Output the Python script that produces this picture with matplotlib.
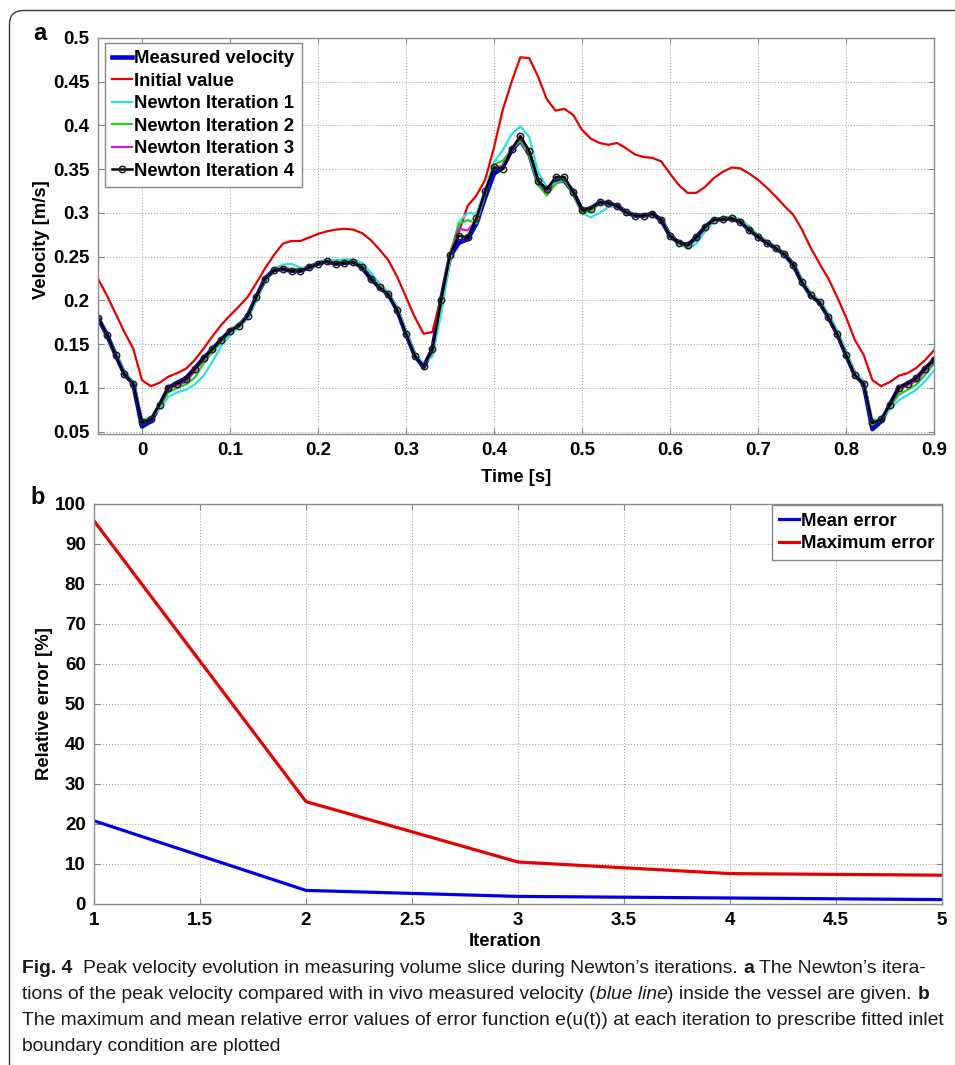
import numpy as np
import matplotlib
matplotlib.use('Agg')
import matplotlib.pyplot as plt
from matplotlib import font_manager
from matplotlib.patches import FancyBboxPatch
from matplotlib.ticker import FuncFormatter

# time samples of the velocity curves [s]
t = np.round(np.arange(-0.05, 0.905, 0.01), 2)

measured = [0.180, 0.161, 0.138, 0.116, 0.105, 0.056, 0.062, 0.080, 0.100, 0.106,
            0.111, 0.122, 0.134, 0.144, 0.155, 0.165, 0.171, 0.182, 0.204, 0.225,
            0.235, 0.236, 0.234, 0.234, 0.238, 0.242, 0.245, 0.242, 0.243, 0.244,
            0.238, 0.225, 0.215, 0.207, 0.189, 0.162, 0.137, 0.124, 0.144, 0.201,
            0.250, 0.266, 0.270, 0.288, 0.318, 0.345, 0.352, 0.372, 0.383, 0.368,
            0.335, 0.326, 0.336, 0.337, 0.324, 0.303, 0.305, 0.312, 0.311, 0.308,
            0.301, 0.297, 0.297, 0.299, 0.292, 0.274, 0.266, 0.263, 0.272, 0.284,
            0.292, 0.293, 0.294, 0.290, 0.281, 0.273, 0.266, 0.260, 0.253, 0.241,
            0.221, 0.206, 0.198, 0.181, 0.162, 0.138, 0.115, 0.105, 0.053, 0.062,
            0.081, 0.100, 0.105, 0.111, 0.122, 0.132]

initial = [0.225, 0.206, 0.185, 0.164, 0.145, 0.109, 0.102, 0.106, 0.113, 0.117,
           0.122, 0.132, 0.145, 0.159, 0.172, 0.183, 0.193, 0.204, 0.220, 0.237,
           0.252, 0.265, 0.268, 0.268, 0.272, 0.276, 0.279, 0.281, 0.282, 0.281,
           0.277, 0.269, 0.258, 0.246, 0.227, 0.204, 0.181, 0.162, 0.164, 0.204,
           0.248, 0.278, 0.308, 0.320, 0.338, 0.375, 0.418, 0.450, 0.478, 0.477,
           0.456, 0.430, 0.417, 0.419, 0.412, 0.395, 0.385, 0.380, 0.378, 0.380,
           0.374, 0.367, 0.364, 0.363, 0.359, 0.345, 0.332, 0.323, 0.323, 0.330,
           0.340, 0.347, 0.352, 0.351, 0.345, 0.338, 0.329, 0.319, 0.308, 0.298,
           0.281, 0.260, 0.242, 0.225, 0.204, 0.181, 0.155, 0.138, 0.109, 0.102,
           0.107, 0.114, 0.117, 0.123, 0.132, 0.143]

newton1 = [0.180, 0.160, 0.140, 0.119, 0.107, 0.064, 0.066, 0.076, 0.090, 0.095,
           0.098, 0.104, 0.114, 0.130, 0.148, 0.160, 0.170, 0.180, 0.200, 0.224,
           0.236, 0.241, 0.242, 0.237, 0.238, 0.243, 0.246, 0.246, 0.247, 0.247,
           0.243, 0.232, 0.219, 0.209, 0.193, 0.166, 0.140, 0.128, 0.136, 0.185,
           0.245, 0.290, 0.300, 0.299, 0.328, 0.358, 0.372, 0.390, 0.399, 0.387,
           0.347, 0.330, 0.334, 0.337, 0.324, 0.300, 0.295, 0.300, 0.307, 0.308,
           0.302, 0.297, 0.297, 0.299, 0.292, 0.276, 0.265, 0.259, 0.265, 0.279,
           0.290, 0.294, 0.296, 0.293, 0.285, 0.275, 0.267, 0.261, 0.254, 0.242,
           0.224, 0.209, 0.200, 0.185, 0.166, 0.142, 0.118, 0.108, 0.064, 0.064,
           0.076, 0.086, 0.092, 0.098, 0.108, 0.120]

newton2 = [0.180, 0.161, 0.138, 0.117, 0.105, 0.062, 0.066, 0.079, 0.095, 0.100,
           0.104, 0.112, 0.128, 0.141, 0.153, 0.165, 0.173, 0.182, 0.204, 0.225,
           0.235, 0.238, 0.236, 0.234, 0.238, 0.242, 0.245, 0.243, 0.244, 0.245,
           0.239, 0.226, 0.216, 0.207, 0.189, 0.162, 0.137, 0.125, 0.142, 0.198,
           0.254, 0.287, 0.292, 0.288, 0.322, 0.355, 0.360, 0.372, 0.383, 0.365,
           0.332, 0.320, 0.333, 0.338, 0.322, 0.300, 0.302, 0.311, 0.311, 0.308,
           0.301, 0.297, 0.297, 0.299, 0.292, 0.274, 0.265, 0.261, 0.271, 0.284,
           0.292, 0.294, 0.295, 0.291, 0.282, 0.274, 0.266, 0.260, 0.253, 0.241,
           0.221, 0.206, 0.198, 0.181, 0.162, 0.138, 0.115, 0.105, 0.058, 0.066,
           0.079, 0.092, 0.098, 0.104, 0.115, 0.128]

newton3 = [0.180, 0.161, 0.138, 0.116, 0.105, 0.061, 0.064, 0.081, 0.099, 0.103,
           0.107, 0.119, 0.133, 0.144, 0.155, 0.165, 0.171, 0.182, 0.204, 0.225,
           0.235, 0.237, 0.235, 0.234, 0.238, 0.242, 0.245, 0.242, 0.243, 0.244,
           0.238, 0.225, 0.215, 0.207, 0.189, 0.162, 0.137, 0.125, 0.144, 0.201,
           0.252, 0.282, 0.280, 0.292, 0.325, 0.352, 0.354, 0.372, 0.386, 0.370,
           0.336, 0.325, 0.340, 0.341, 0.324, 0.303, 0.305, 0.312, 0.311, 0.308,
           0.301, 0.297, 0.297, 0.299, 0.292, 0.274, 0.266, 0.262, 0.272, 0.284,
           0.292, 0.293, 0.294, 0.290, 0.281, 0.273, 0.266, 0.260, 0.253, 0.241,
           0.221, 0.206, 0.198, 0.181, 0.162, 0.138, 0.115, 0.105, 0.060, 0.064,
           0.080, 0.098, 0.103, 0.108, 0.120, 0.130]

newton4 = [0.180, 0.161, 0.138, 0.116, 0.105, 0.061, 0.064, 0.081, 0.100, 0.105,
           0.110, 0.122, 0.134, 0.144, 0.155, 0.165, 0.171, 0.182, 0.204, 0.225,
           0.235, 0.236, 0.234, 0.234, 0.238, 0.242, 0.245, 0.242, 0.243, 0.244,
           0.238, 0.225, 0.215, 0.207, 0.189, 0.162, 0.137, 0.125, 0.144, 0.201,
           0.252, 0.274, 0.272, 0.294, 0.325, 0.352, 0.350, 0.373, 0.388, 0.371,
           0.337, 0.327, 0.341, 0.341, 0.324, 0.303, 0.305, 0.312, 0.311, 0.308,
           0.301, 0.297, 0.297, 0.299, 0.292, 0.274, 0.266, 0.263, 0.272, 0.284,
           0.292, 0.293, 0.294, 0.290, 0.281, 0.273, 0.266, 0.260, 0.253, 0.241,
           0.221, 0.206, 0.198, 0.181, 0.162, 0.138, 0.115, 0.105, 0.060, 0.064,
           0.081, 0.100, 0.105, 0.111, 0.122, 0.132]

iterations = [1, 2, 3, 4, 5]
mean_error = [20.8, 3.4, 1.9, 1.5, 1.1]
max_error = [95.8, 25.6, 10.5, 7.6, 7.2]

plt.rcParams['font.family'] = ['Liberation Sans', 'DejaVu Sans']
plt.rcParams['font.weight'] = 'bold'
plt.rcParams['axes.labelweight'] = 'bold'

W, H = 955, 1065
fig = plt.figure(figsize=(W / 100, H / 100), dpi=100)


def px_box(left, top, right, bottom):
    return [left / W, 1 - bottom / H, (right - left) / W, (bottom - top) / H]


def style(ax):
    ax.grid(True, ls=(0, (1, 2)), color='#9a9a9a', lw=0.7)
    ax.set_axisbelow(True)
    ax.tick_params(direction='in', length=4, width=0.8, color='#888888',
                   top=True, right=True, labelsize=13.5, pad=6)
    for s in ax.spines.values():
        s.set_color('#8c8c8c')
        s.set_linewidth(1.0)
    fmt = FuncFormatter(lambda v, p: '%g' % round(v, 3))
    ax.xaxis.set_major_formatter(fmt)
    ax.yaxis.set_major_formatter(fmt)


def make_legend(ax, **kw):
    leg = ax.legend(borderaxespad=0, fontsize=13.3, handlelength=1.1, handletextpad=0.1,
                    labelspacing=0.3, borderpad=0.4, fancybox=False, edgecolor='#888888',
                    framealpha=1, **kw)
    leg.get_frame().set_linewidth(1.0)
    return leg


# panel a
ax1 = fig.add_axes(px_box(98, 38, 934, 434))
ax1.plot(t, measured, color='#0000e6', lw=3.3, label='Measured velocity')
ax1.plot(t, initial, color='#e60000', lw=1.6, label='Initial value')
ax1.plot(t, newton1, color='#30e0e0', lw=1.6, label='Newton Iteration 1')
ax1.plot(t, newton2, color='#1ed21e', lw=1.6, label='Newton Iteration 2')
ax1.plot(t, newton3, color='#cc22cc', lw=1.6, label='Newton Iteration 3')
ax1.plot(t, newton4, color='black', lw=1.8, marker='o', ms=4.6, mfc='none',
         mec='#222222', mew=1.1, label='Newton Iteration 4')
ax1.set_xlim(-0.05, 0.9)
ax1.set_ylim(0.0474, 0.5)
ax1.set_xticks(np.round(np.arange(0, 0.91, 0.1), 1))
ax1.set_yticks(np.round(np.arange(0.05, 0.51, 0.05), 2))
style(ax1)
ax1.set_xlabel('Time [s]', fontsize=13.3, va='center')
ax1.xaxis.set_label_coords(0.5, -0.109)
ax1.set_ylabel('Velocity [m/s]', fontsize=13.3, va='center')
ax1.yaxis.set_label_coords(-0.068, 0.49)
make_legend(ax1, loc='upper left', bbox_to_anchor=(0.008, 0.988))

# panel b
ax2 = fig.add_axes(px_box(94, 504, 942, 904))
ax2.plot(iterations, mean_error, color='#0000e6', lw=2.3, label='Mean error')
ax2.plot(iterations, max_error, color='#e60000', lw=2.3, label='Maximum error')
ax2.set_xlim(1, 5)
ax2.set_ylim(0, 100)
ax2.set_xticks(np.arange(1, 5.01, 0.5))
ax2.set_yticks(np.arange(0, 101, 10))
style(ax2)
ax2.set_xlabel('Iteration', fontsize=13.3, va='center')
ax2.xaxis.set_label_coords(0.485, -0.095)
ax2.set_ylabel('Relative error [%]', fontsize=13.3, va='center')
ax2.yaxis.set_label_coords(-0.058, 0.5)
make_legend(ax2, loc='upper right', bbox_to_anchor=(1.0, 0.997))

fig.text(40 / W, 1 - 33 / H, 'a', fontsize=17, fontweight='bold', ha='center', va='center')
fig.text(38 / W, 1 - 498 / H, 'b', fontsize=17, fontweight='bold', ha='center', va='center')

# outer frame with rounded top-left corner
frame = FancyBboxPatch((0.095, -1.0), 20, 10.545 + 1.0, boxstyle='round,pad=0,rounding_size=0.14',
                       transform=fig.dpi_scale_trans, fill=False, ec='#3c3c3c', lw=1.0)
fig.add_artist(frame)

# caption
names = {f.name for f in font_manager.fontManager.ttflist}
cap_font = 'Liberation Sans Narrow' if 'Liberation Sans Narrow' in names else 'Liberation Sans'
r = fig.canvas.get_renderer()


def width_of(s, size, weight='normal', style_='normal'):
    tx = fig.text(0, 0, s, fontsize=size, fontweight=weight, fontstyle=style_, family=cap_font)
    w = tx.get_window_extent(r).width
    tx.remove()
    return w


caption = [
    [('Fig. 4', 'bold', 'normal', 2),
     ('Peak velocity evolution in measuring volume slice during Newton\u2019s iterations.', 'normal', 'normal', 1),
     ('a', 'bold', 'normal', 1),
     ('The Newton\u2019s itera-', 'normal', 'normal', 0)],
    [('tions of the peak velocity compared with in vivo measured velocity (', 'normal', 'normal', 0),
     ('blue line', 'normal', 'italic', 0),
     (') inside the vessel are given.', 'normal', 'normal', 1),
     ('b', 'bold', 'normal', 0)],
    [('The maximum and mean relative error values of error function e(u(t)) at each iteration to prescribe fitted inlet',
      'normal', 'normal', 0)],
    [('boundary condition are plotted', 'normal', 'normal', 0)],
]

base = 12.0
line1_w = sum(width_of(s, base, w, st) for s, w, st, g in caption[0])
space_w = width_of('a a', base) - width_of('aa', base)
line1_w += 4 * space_w
cap_size = base * 906 / line1_w
space_w = width_of('a a', cap_size) - width_of('aa', cap_size)

baselines = [973, 999, 1025, 1051]
for parts, yb in zip(caption, baselines):
    x = 22
    for s, w, st, gap in parts:
        tx = fig.text(x / W, 1 - yb / H, s, fontsize=cap_size, fontweight=w, fontstyle=st,
                      family=cap_font, va='baseline', color='#1a1a1a')
        x += tx.get_window_extent(r).width + gap * space_w

fig.savefig('out.png', dpi=100)
